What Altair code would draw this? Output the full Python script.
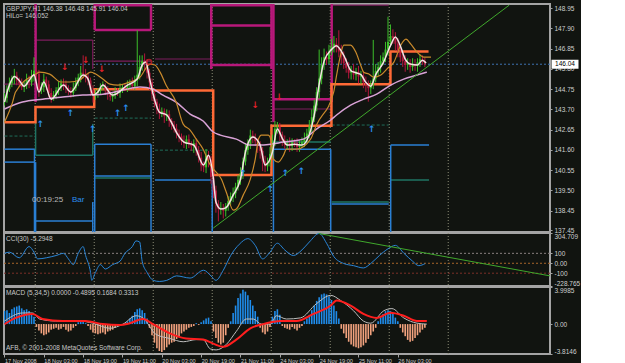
import json
import altair as alt
import pandas as pd

# ---------------- data ----------------
OPEN0 = 144.10
CLOSE = [
    144.30, 144.75, 145.05, 145.30, 145.45, 145.20, 145.05, 144.85, 144.95, 145.25,
    145.10, 145.40, 145.70, 145.55, 144.70, 144.85, 145.25, 145.00, 144.55, 144.30,
    144.45, 144.70, 144.85, 145.05, 145.00, 144.80, 144.65, 144.55, 144.80, 145.10,
    145.35, 145.60, 145.50, 145.40, 145.20, 144.70, 144.40, 144.55, 144.65, 144.85,
    144.90, 144.70, 144.50, 144.35, 144.45, 144.60, 144.55, 144.75, 144.85, 144.80,
    144.95, 145.05, 144.90, 145.20, 145.50, 145.90, 146.20, 146.05, 145.60, 145.10,
    144.50, 144.10, 143.70, 143.50, 143.60, 143.35, 143.45, 143.10, 142.90, 142.70,
    142.45, 142.30, 142.05, 141.95, 142.15, 141.90, 141.80, 141.95, 141.60, 141.20,
    140.80, 140.70, 141.30, 141.10, 140.20, 139.50, 138.80, 138.55, 138.60, 138.45,
    138.70, 138.95, 139.20, 139.35, 139.70, 140.05, 140.40, 141.00, 141.60, 141.90,
    142.35, 142.25, 142.05, 141.80, 141.55, 141.00, 140.75, 140.95, 141.40, 142.10,
    142.70, 142.80, 142.40, 142.10, 141.85, 141.95, 141.80, 142.00, 141.95, 141.75,
    141.90, 142.00, 142.20, 142.45, 142.80, 143.30, 143.90, 144.60, 145.30, 146.00,
    146.40, 146.30, 146.70, 146.95, 147.10, 146.90, 146.70, 146.40, 146.10, 145.85,
    145.60, 145.70, 145.50, 145.65, 145.40, 145.45, 145.10, 144.95, 144.80, 145.00,
    145.30, 145.70, 145.90, 146.20, 146.40, 146.80, 147.20, 147.50, 147.40, 147.10,
    146.70, 146.40, 146.20, 146.00, 146.10, 145.90, 146.05, 145.95, 146.15, 146.30,
    146.20, 146.04,
]
# upper / lower wick lengths in hundredths of a yen
UPPER_WICK = [
    25, 20, 30, 15, 35, 20, 15, 25, 20, 30,
    20, 35, 70, 50, 20, 25, 30, 15, 20, 25,
    20, 15, 30, 20, 25, 20, 15, 20, 30, 25,
    20, 35, 90, 30, 20, 15, 25, 20, 15, 20,
    25, 15, 20, 20, 15, 25, 20, 30, 15, 20,
    25, 20, 30, 25, 230, 60, 30, 40, 25, 20,
    20, 25, 15, 30, 20, 15, 25, 20, 15, 20,
    25, 20, 15, 30, 20, 25, 15, 20, 25, 20,
    30, 20, 35, 25, 20, 30, 25, 20, 30, 20,
    15, 25, 20, 30, 20, 25, 30, 20, 35, 25,
    30, 25, 20, 15, 25, 20, 30, 25, 35, 30,
    40, 25, 20, 15, 25, 20, 30, 20, 15, 25,
    20, 25, 30, 25, 35, 40, 30, 25, 150, 40,
    45, 30, 35, 40, 40, 30, 90, 35, 30, 25,
    30, 25, 35, 20, 30, 25, 20, 30, 25, 20,
    200, 35, 25, 30, 25, 40, 130, 60, 35, 30,
    30, 25, 20, 30, 25, 20, 30, 25, 20, 25,
    20, 18,
]
LOWER_WICK = [
    20, 25, 15, 20, 30, 25, 20, 15, 25, 20,
    30, 20, 25, 30, 35, 20, 25, 30, 20, 25,
    15, 20, 25, 20, 30, 25, 20, 25, 20, 15,
    20, 25, 20, 30, 25, 30, 35, 20, 25, 20,
    15, 25, 30, 20, 25, 20, 15, 25, 20, 15,
    20, 25, 15, 20, 30, 25, 20, 35, 30, 40,
    35, 30, 25, 30, 20, 35, 25, 30, 25, 20,
    25, 30, 20, 25, 30, 20, 25, 35, 30, 25,
    30, 25, 30, 40, 35, 40, 45, 65, 30, 40,
    30, 25, 20, 30, 25, 20, 25, 30, 20, 25,
    25, 30, 25, 35, 40, 50, 30, 25, 20, 25,
    30, 25, 35, 30, 20, 25, 30, 25, 20, 25,
    25, 20, 25, 20, 25, 30, 25, 30, 35, 30,
    25, 30, 25, 20, 30, 25, 30, 35, 30, 25,
    30, 35, 25, 30, 35, 40, 30, 35, 70, 30,
    25, 20, 25, 30, 20, 25, 30, 25, 30, 35,
    30, 25, 30, 35, 25, 30, 20, 25, 30, 25,
    20, 15,
]

WHITE_I = [0, 2, 4, 6, 8, 10, 12, 14, 16, 19, 24, 27, 32, 34, 36, 38, 40, 44, 50, 54, 56, 57.5, 59, 61, 63, 66,
           68, 70, 73, 77, 81, 83, 85, 86, 88, 90, 93, 96, 98, 101, 104, 106, 109, 111, 113, 115, 118, 121, 124,
           126, 128, 130, 133, 135, 138, 141, 143, 145, 147, 149, 151, 154, 157, 159, 161, 163, 165, 168, 170, 171.5]
WHITE_P = [144.08, 144.96, 145.40, 145.20, 144.90, 145.20, 145.50, 144.60, 145.12, 144.23, 144.96, 144.60, 145.48,
           145.27, 144.44, 144.60, 144.96, 144.44, 144.96, 145.27, 146.00, 146.15, 145.30, 144.23, 143.56, 143.41,
           143.00, 142.50, 142.01, 141.85, 140.82, 141.33, 140.09, 138.90, 138.54, 138.60, 139.26, 140.09, 141.49,
           142.27, 141.85, 140.82, 141.49, 142.68, 142.20, 141.85, 141.90, 141.85, 142.40, 143.40, 145.00, 146.20,
           146.80, 147.00, 146.50, 145.70, 145.60, 145.50, 145.10, 144.90, 145.50, 146.10, 147.00, 147.45, 147.00,
           146.30, 146.05, 146.00, 146.25, 146.10]

TAN_I = [0, 3.3, 4.5, 12.7, 14.3, 18.4, 22.9, 26.5, 30.6, 33, 35.1, 37.1, 40, 42.9, 46.1, 51, 55.1, 59.2, 61.2,
         63.3, 65.7, 69.8, 72.7, 75.5, 78, 80.8, 83.7, 86.1, 88.2, 90.2, 93.1, 94.3, 97.1, 100, 102, 103.3, 104.5,
         107.3, 108.6, 109.4, 111.4, 113.5, 114.7, 118.8, 124.5, 126.9, 133.9, 135.1, 136.7, 138, 140.8, 142.9,
         144.9, 146.1, 148.2, 150.2, 153.1, 155.5, 158.4, 161.2, 163.3, 165.3, 167.8, 170.6, 173.5]
TAN_P = [143.04, 144.08, 144.60, 145.53, 145.63, 145.53, 145.12, 145.12, 145.22, 145.48, 145.63, 145.53, 145.27,
         145.01, 144.96, 145.12, 145.37, 146.05, 146.00, 145.63, 144.96, 144.08, 142.94, 142.63, 142.16, 141.64,
         140.82, 140.45, 140.09, 139.42, 138.48, 138.54, 139.26, 140.09, 141.13, 142.16, 142.37, 142.37, 142.01,
         141.13, 140.97, 141.33, 141.64, 141.64, 142.16, 142.89, 144.60, 145.48, 146.51, 147.03, 147.03, 146.67,
         145.99, 145.63, 145.53, 145.37, 145.48, 145.79, 146.15, 147.03, 147.34, 147.08, 146.67, 146.41, 146.41]

PINK_I = [0, 7.3, 15.5, 23.7, 31.8, 40, 48.2, 55.1, 60.4, 64.5, 69.8, 75.5, 80.8, 84.9, 87.8, 94.3, 100, 104.1,
          108.2, 113.5, 121.6, 126.9, 132.7, 135.1, 140.8, 146.1, 151.4, 157.1, 162.4, 167.8, 171.8]
PINK_P = [143.72, 144.08, 144.23, 144.34, 144.44, 144.49, 144.70, 144.86, 144.75, 144.44, 144.08, 143.46, 143.10,
          142.53, 142.37, 142.16, 141.85, 141.85, 141.90, 142.01, 142.16, 142.68, 143.15, 143.41, 143.92, 144.23,
          144.49, 144.96, 145.27, 145.48, 145.63]

ORANGE_I = [0, 12.6, 36.5, 60.5, 84.9, 108.6, 133, 157, 172.5]
ORANGE_P = [143.04, 143.82, 144.75, 144.68, 140.30, 142.85, 145.00, 146.70, 146.70]

# segments: (bar1, bar2, price1, price2)
MAGENTA_THICK = [
    (12.65, 12.65, 149.3, 144.08),
    (36.7, 36.7, 149.3, 147.81), (36.7, 59.6, 147.81, 147.81), (59.6, 59.6, 149.3, 147.81), (36.7, 59.6, 149.1, 149.1),
    (84.1, 84.1, 149.3, 145.79), (108.6, 108.6, 149.3, 145.79), (84.1, 108.6, 148.05, 148.05),
    (84.1, 108.6, 146.0, 146.0), (84.1, 108.6, 149.1, 149.1),
    (109.4, 109.4, 149.3, 143.04), (109.4, 132.7, 144.23, 144.23),
    (133.1, 133.1, 149.3, 144.08),
]
MAGENTA_THIN = [
    (0, 12.65, 145.01, 145.01),
    (12.65, 35.9, 147.29, 147.29), (35.9, 35.9, 147.29, 145.79),
    (36.7, 59.6, 146.2, 146.2),
    (61.2, 84.1, 146.31, 146.31),
    (109.4, 132.7, 143.72, 143.72),
    (133.1, 156.3, 149.1, 149.1),
]
BLUE_SEG = [
    (0, 12.2, 141.64, 141.64), (0, 12.2, 140.97, 140.97), (12.2, 12.2, 141.64, 137.3),
    (12.65, 35.9, 137.92, 137.92), (12.65, 12.65, 140.97, 137.3), (35.9, 35.9, 138.9, 137.3),
    (36.7, 59.6, 141.9, 141.9), (36.7, 59.6, 140.25, 140.25), (36.7, 36.7, 141.9, 137.3), (59.6, 59.6, 141.9, 137.3),
    (61.2, 84.1, 140.04, 140.04), (84.5, 84.5, 140.04, 137.3),
    (109.4, 132.7, 141.64, 141.64), (109.4, 109.4, 142.01, 137.3), (132.7, 132.7, 141.64, 137.3),
    (133.1, 156.3, 138.8, 138.8),
    (157.1, 172.7, 141.85, 141.85), (157.1, 157.1, 141.85, 137.3),
]
TEAL_SEG = [
    (12.65, 35.9, 141.33, 141.33), (12.65, 12.65, 143.82, 141.33), (35.9, 35.9, 142.95, 141.33),
    (36.7, 59.6, 140.15, 140.15),
    (109.4, 132.7, 142.01, 142.01),
    (133.1, 156.3, 138.9, 138.9),
    (157.1, 172.7, 140.04, 140.04),
]
TEAL_DASH = [
    (0, 12.2, 142.32, 142.32),
    (36.7, 59.6, 143.25, 143.25),
    (61.2, 84.1, 141.59, 141.59),
    (133.1, 156.3, 142.89, 142.89),
]

UP_ARROW_I = [14.7, 26.9, 35.9, 46.1, 49.4, 97.1, 108.2, 114.3, 120.8, 149.4]
UP_ARROW_P = [143.15, 143.72, 142.89, 143.72, 143.98, 140.60, 139.78, 140.60, 140.71, 142.89]
DOWN_ARROW_I = [24.5, 33.1, 39.6, 102, 111.8]
DOWN_ARROW_P = [145.63, 145.99, 145.53, 143.67, 144.08]
CIRCLE_I = [58.8]
CIRCLE_P = [146.15]

TREND_I = [84.9, 205.3]
TREND_P = [137.55, 149.10]

LAST_PRICE = 146.04

CCI_I = [0, 2, 6, 10, 12, 13.5, 17, 21, 24, 26, 28, 30, 32, 33, 35, 35.5, 37, 39, 41, 44, 47, 49, 52, 53.5, 55, 56,
         58, 60.5, 63, 66, 70, 75.5, 81, 84, 86, 89, 92, 95.5, 99, 102, 105, 108, 111, 114, 117.5, 121, 124, 128,
         131, 134, 138, 142, 146, 149, 152.5, 156, 159, 162.5, 166, 168.5, 171]
CCI_V = [100, 112, 55, 168, 112, 44, 55, 78, 100, 44, -13, 100, 168, 78, -92, -172, -92, -13, -58, -13, 21, 100,
         168, 225, 214, 21, -92, -172, -183, -172, -127, -149, -70, -127, -172, -70, 78, 191, 248, 180, 44, 112,
         202, 134, 78, 134, 214, 300, 202, 66, -2, -24, -47, -2, 78, 146, 180, 100, 21, -24, -5]
CCI_TREND_I = [127.8, 221.9]
CCI_TREND_V = [300, -127]
CCI_LEVELS = [100, 0, -100]

HIST = [
    1.4, 1.5, 1.2, 1.6, 1.8, 1.9, 2.0, 1.7, 1.5, 1.6, 1.4, 1.0, 0.8,
    -0.3, -0.7, -1.0, -1.2, -1.1, -0.9, -0.6, -0.5, -0.4, -0.6, -0.5,
    -0.3, -0.6, -0.8, -0.7, -0.4, -0.2,
    0.2, 0.4, 0.3, 0.1, -0.2,
    -0.6, -0.9, -1.0, -1.1, -1.0, -0.9, -1.1, -0.8, -0.7, -0.6, -0.4, -0.2,
    0.0, -0.1, 0.1, 0.3,
    0.6, 0.9, 1.3, 1.6, 1.7, 1.5, 1.2, 0.6,
    -0.4, -1.2, -2.0, -2.6, -2.9, -3.0, -2.8, -2.5, -2.2, -2.0, -1.9, -1.6, -1.3, -1.0, -0.8, -0.6, -0.4,
    -0.3, -0.2, 0.1, -0.1, 0.2, 0.4,
    0.6, 0.7, 0.3,
    -0.8, -1.5, -2.0, -2.2, -2.0, -1.2,
    -0.4, 0.3,
    1.2, 2.0, 2.8, 3.3, 3.7, 3.5, 3.1, 2.6, 2.0, 1.4, 0.8,
    -0.4, -0.9, -1.1, -0.8, -0.3,
    0.8, 1.4, 1.6, 1.0,
    -0.2, -0.4, -0.5, -0.6, -0.3, -0.5, -0.7, -0.4, -0.2,
    0.3, 0.6, 1.0, 1.5, 2.0, 2.5, 2.9, 3.2, 3.3, 3.2, 3.0, 2.6, 2.0, 1.4, 0.6,
    -0.5, -1.0, -1.5, -1.9, -2.2, -2.4, -2.5, -2.6, -2.5, -2.3, -2.0, -1.6, -1.2, -0.8, -0.4,
    0.3, 0.7, 1.1, 1.4, 1.5, 1.4, 1.1, 0.7, 0.3,
    -0.4, -0.9, -1.3, -1.7, -1.9, -1.8, -1.5, -1.2, -0.9, -0.6, -0.4,
]
MACD_I = [0, 7.3, 11.4, 14.3, 20.8, 30.6, 35.9, 42.9, 48.2, 53.5, 56.3, 61.6, 67.3, 72.7, 78, 80.8, 83.7, 86.1,
          90.2, 94.3, 98.4, 101.2, 104.5, 108.2, 110.6, 114.7, 120.4, 126.9, 132.7, 136.7, 142, 146, 149, 154.3,
          157.6, 162.4, 167.8, 171.8]
MACD_V = [0.33, 1.2, 1.2, 0.55, 0.33, 0.33, 0.1, -0.45, 0, 0.9, 0.67, -1.1, -1.55, -1.9, -1.67, -1.67, -2.67,
          -2.78, -2.2, -0.78, 0.55, 0.55, 0, 0, 0.9, 0.55, 0.67, 2.2, 3.1, 2.55, 1.44, 0.33, 0.1, 1.44, 1.67, 0.67,
          0.1, 0]
SIGNAL_I = [0, 4.5, 11.4, 15.5, 23.7, 33, 40, 47, 51, 56.3, 60.4, 67.3, 73.9, 80.8, 84.9, 89, 94.3, 100, 105.3,
            112.2, 118.8, 125.7, 132.7, 135.1, 140.8, 146, 151.4, 157, 162.4, 167.8, 171.8]
SIGNAL_V = [0, 0.67, 1.1, 0.55, 0.33, 0.33, 0, -0.1, 0.1, 0.55, 0, -1.0, -1.55, -1.67, -2.1, -2.45, -1.67, -0.45,
            0, 0.33, 0.33, 1.1, 2.0, 2.55, 2.0, 1.1, 0.67, 1.22, 0.9, 0.33, 0.33]

PRICE_TICKS = [148.95, 147.90, 146.85, 145.80, 144.75, 143.70, 142.65, 141.60, 140.55, 139.50, 138.45, 137.45]
CCI_TICKS = [304.709, 100, 0, -100, -228.765]
CCI_TICK_TEXT = ["304.709", "100", "0.00", "-100", "-228.765"]
MACD_TICKS = [3.9985, 0, -3.22]
MACD_TICK_TEXT = ["3.9985", "0.00", "-3.8146"]
DATE_TICKS = [0, 16, 32, 48, 64, 80, 96, 112, 128, 144, 160]
DATE_TEXT = ["17 Nov 2008", "18 Nov 03:00", "18 Nov 19:00", "19 Nov 11:00", "20 Nov 03:00", "20 Nov 19:00",
             "21 Nov 11:00", "24 Nov 03:00", "24 Nov 19:00", "25 Nov 11:00", "26 Nov 03:00"]
SEPARATORS = [12.5, 36.5, 60.5, 84.5, 108.5, 132.5, 156.5, 180.5]

TITLE_MAIN = "GBPJPY,H1  146.38 146.48 145.91 146.04"
TITLE_HILO = "HiLo= 146.052"
TIMER_TEXT = "00:19:25"
TIMER_BAR = "Bar"
TITLE_CCI = "CCI(30) -5.2948"
TITLE_MACD = "MACD (5,34,5) 0.0000 -0.4895 0.1684 0.3313"
COPYRIGHT = "AFB, \u00a9 2001-2008 MetaQuotes Software Corp."

# ---------------- styling ----------------
BG = "#111410"
FONT = "Liberation Sans"
W = 546
H_MAIN, H_CCI, H_MACD = 228, 53, 67
XDOM = [-0.2, 221.9]
BULL, BEAR = "#3cbf2a", "#b3173c"

xscale = alt.Scale(domain=XDOM, nice=False, zero=False)


def lab_expr(vals, texts):
    expr = "''"
    for v, t in reversed(list(zip(vals, texts))):
        expr = f"datum.value == {v} ? '{t}' : ({expr})"
    return expr


# ---------------- tables ----------------
opens = [OPEN0] + CLOSE[:-1]
candles = pd.DataFrame({
    "i": list(range(len(CLOSE))),
    "o": opens,
    "c": CLOSE,
    "h": [max(o, c) + u / 100 for o, c, u in zip(opens, CLOSE, UPPER_WICK)],
    "l": [min(o, c) - d / 100 for o, c, d in zip(opens, CLOSE, LOWER_WICK)],
    "up": [1 if c >= o else 0 for o, c in zip(opens, CLOSE)],
})


def seg_df(segs):
    return pd.DataFrame(segs, columns=["i", "i2", "p", "p2"])


sep_df = pd.DataFrame({"i": SEPARATORS})

# ---------------- main panel ----------------
yscale = alt.Scale(domain=[137.35, 149.16], nice=False, zero=False)
yaxis = alt.Axis(orient="right", values=PRICE_TICKS, format=".2f", labelOverlap=False, title=None)
X = lambda f="i:Q": alt.X(f, scale=xscale, axis=None, title=None)
Y = lambda f: alt.Y(f, scale=yscale, axis=yaxis, title=None)

seps_main = alt.Chart(sep_df).mark_rule(color="#8e8e78", strokeDash=[1, 2], strokeWidth=1).encode(x=X())
last_line = alt.Chart(pd.DataFrame({"p": [LAST_PRICE]})).mark_rule(
    color="#3f72b0", strokeDash=[2, 2], strokeWidth=1).encode(y=Y("p:Q"))


def seg_layer(segs, color, width, dash=None):
    kw = dict(color=color, strokeWidth=width, clip=True)
    if dash:
        kw["strokeDash"] = dash
    return alt.Chart(seg_df(segs)).mark_rule(**kw).encode(
        x=X(), x2="i2:Q", y=Y("p:Q"), y2="p2:Q")


teal_dash = seg_layer(TEAL_DASH, "#1f6e5a", 1, [3, 2])
teal = seg_layer(TEAL_SEG, "#1f7463", 1.5)
blue = seg_layer(BLUE_SEG, "#2a7fd4", 1.5)
mag_thin = seg_layer(MAGENTA_THIN, "#7c1c5c", 1.2)
mag_thick = seg_layer(MAGENTA_THICK, "#b8187a", 2.5)

orange = alt.Chart(pd.DataFrame({"i": ORANGE_I, "p": ORANGE_P})).mark_line(
    interpolate="step-after", color="#ff6a36", strokeWidth=2.5, clip=True).encode(x=X(), y=Y("p:Q"))


def candle_layers(flag, color):
    base = alt.Chart(candles).transform_filter(alt.datum.up == flag)
    w = base.mark_rule(strokeWidth=1, color=color, clip=True).encode(x=X(), y=Y("l:Q"), y2="h:Q")
    b = base.mark_rule(strokeWidth=2, color=color, clip=True).encode(x=X(), y=Y("o:Q"), y2="c:Q")
    return [w, b]


candle_marks = candle_layers(0, BEAR) + candle_layers(1, BULL)

pink = alt.Chart(pd.DataFrame({"i": PINK_I, "p": PINK_P})).mark_line(
    interpolate="monotone", color="#d9a2d6", strokeWidth=1.5, clip=True).encode(x=X(), y=Y("p:Q"))
tan = alt.Chart(pd.DataFrame({"i": TAN_I, "p": TAN_P})).mark_line(
    interpolate="monotone", color="#c98a2c", strokeWidth=1.2, clip=True).encode(x=X(), y=Y("p:Q"))
white = alt.Chart(pd.DataFrame({"i": WHITE_I, "p": WHITE_P})).mark_line(
    interpolate="monotone", color="#f4e2e2", strokeWidth=1.5, clip=True).encode(x=X(), y=Y("p:Q"))

trend = alt.Chart(pd.DataFrame({"i": [TREND_I[0]], "i2": [TREND_I[1]], "p": [TREND_P[0]], "p2": [TREND_P[1]]})
                  ).mark_rule(color="#40a82c", strokeWidth=1, clip=True).encode(x=X(), x2="i2:Q", y=Y("p:Q"), y2="p2:Q")

up_arrows = alt.Chart(pd.DataFrame({"i": UP_ARROW_I, "p": UP_ARROW_P})).mark_text(
    text="\u2191", color="#2a8ff0", font="DejaVu Sans", fontWeight="bold", fontSize=9, baseline="top").encode(
    x=X(), y=Y("p:Q"))
dn_arrows = alt.Chart(pd.DataFrame({"i": DOWN_ARROW_I, "p": DOWN_ARROW_P})).mark_text(
    text="\u2193", color="#e0202a", font="DejaVu Sans", fontWeight="bold", fontSize=9, baseline="bottom").encode(
    x=X(), y=Y("p:Q"))
circle = alt.Chart(pd.DataFrame({"i": CIRCLE_I, "p": CIRCLE_P})).mark_point(
    shape="circle", size=25, color="#e0202a", filled=False, strokeWidth=1.5).encode(x=X(), y=Y("p:Q"))


def label(txt, x, y, color="#c8c8c8", size=6.5, align="left"):
    return alt.Chart(pd.DataFrame({"t": [txt]})).mark_text(
        align=align, baseline="middle", font=FONT, fontSize=size, color=color).encode(
        x=alt.value(x), y=alt.value(y), text="t:N")


price_box = alt.Chart(pd.DataFrame({"p": [LAST_PRICE]})).mark_rect(
    width=27, height=9, color="#ffffff").encode(x=alt.value(W + 15), y=Y("p:Q"))
price_txt = alt.Chart(pd.DataFrame({"p": [LAST_PRICE], "t": [f"{LAST_PRICE:.2f}"]})).mark_text(
    font=FONT, fontSize=6.5, color="#000000", align="center", baseline="middle").encode(
    x=alt.value(W + 15), y=Y("p:Q"), text="t:N")

main = alt.layer(
    seps_main, last_line, teal_dash, teal, blue, mag_thin, mag_thick, orange, *candle_marks,
    pink, tan, white, trend, up_arrows, dn_arrows, circle,
    label(TITLE_MAIN, 2, 5), label(TITLE_HILO, 2, 12),
    label(TIMER_TEXT, 28, 196, color="#b8b8b8", size=8), label(TIMER_BAR, 68, 196, color="#2a8ff0", size=8),
    price_box, price_txt,
).properties(width=W, height=H_MAIN)

# ---------------- CCI panel ----------------
cscale = alt.Scale(domain=[-228.765, 304.709], nice=False, zero=False)
caxis = alt.Axis(orient="right", values=CCI_TICKS, labelExpr=lab_expr(CCI_TICKS, CCI_TICK_TEXT),
                 labelOverlap=False, labelFlush=True, title=None)
YC = lambda f: alt.Y(f, scale=cscale, axis=caxis, title=None)

seps_cci = alt.Chart(sep_df).mark_rule(color="#8e8e78", strokeDash=[1, 2], strokeWidth=1).encode(x=X())
LEVEL_COLORS = ["#8a8080", "#a8662a", "#7a3028"]
levels = [
    alt.Chart(pd.DataFrame({"v": [lv]})).mark_rule(strokeDash=[2, 2], strokeWidth=1, color=col).encode(y=YC("v:Q"))
    for lv, col in zip(CCI_LEVELS, LEVEL_COLORS)
]
cci_line = alt.Chart(pd.DataFrame({"i": CCI_I, "v": CCI_V})).mark_line(
    interpolate="monotone", color="#2a86d8", strokeWidth=1, clip=True).encode(x=X(), y=YC("v:Q"))
cci_trend = alt.Chart(pd.DataFrame({"i": [CCI_TREND_I[0]], "i2": [CCI_TREND_I[1]],
                                    "v": [CCI_TREND_V[0]], "v2": [CCI_TREND_V[1]]})).mark_rule(
    color="#40a82c", strokeWidth=1, clip=True).encode(x=X(), x2="i2:Q", y=YC("v:Q"), y2="v2:Q")

cci = alt.layer(seps_cci, *levels, cci_line, cci_trend, label(TITLE_CCI, 2, 6)).properties(width=W, height=H_CCI)

# ---------------- MACD panel ----------------
mscale = alt.Scale(domain=[-3.22, 3.9985], nice=False, zero=False)
maxis = alt.Axis(orient="right", values=MACD_TICKS, labelExpr=lab_expr(MACD_TICKS, MACD_TICK_TEXT),
                 labelOverlap=False, labelFlush=True, title=None)
xaxis = alt.Axis(orient="bottom", values=DATE_TICKS, labelExpr=f"{json.dumps(DATE_TEXT)}[round(datum.value / 16)]",
                 labelAlign="left", labelOverlap=False, labelPadding=1, tickSize=3, labelFontSize=5.6,
                 title=None)
XM = lambda f="i:Q": alt.X(f, scale=xscale, axis=xaxis, title=None)
YM = lambda f: alt.Y(f, scale=mscale, axis=maxis, title=None)

hist_df = pd.DataFrame({"i": list(range(len(HIST))), "v": HIST, "z": [0] * len(HIST),
                        "pos": [1 if v >= 0 else 0 for v in HIST]})
seps_macd = alt.Chart(sep_df).mark_rule(color="#8e8e78", strokeDash=[1, 2], strokeWidth=1).encode(x=XM())
hist_pos = alt.Chart(hist_df).transform_filter(alt.datum.pos == 1).mark_rule(
    strokeWidth=1.6, color="#1f8ceb", clip=True).encode(x=XM(), y=YM("z:Q"), y2="v:Q")
hist_neg = alt.Chart(hist_df).transform_filter(alt.datum.pos == 0).mark_rule(
    strokeWidth=1.6, color="#f2a27e", clip=True).encode(x=XM(), y=YM("z:Q"), y2="v:Q")
macd_line = alt.Chart(pd.DataFrame({"i": MACD_I, "v": MACD_V})).mark_line(
    interpolate="monotone", color="#bdbdbd", strokeWidth=1, clip=True).encode(x=XM(), y=YM("v:Q"))
sig_line = alt.Chart(pd.DataFrame({"i": SIGNAL_I, "v": SIGNAL_V})).mark_line(
    interpolate="monotone", color="#ff1e1e", strokeWidth=2, clip=True).encode(x=XM(), y=YM("v:Q"))

macd = alt.layer(seps_macd, hist_pos, hist_neg, macd_line, sig_line, label(TITLE_MACD, 2, 6),
                 label(COPYRIGHT, 2, 61)).properties(width=W, height=H_MACD)

chart = alt.vconcat(main, cci, macd, spacing=1).properties(
    padding={"left": 2, "top": 2, "right": 0, "bottom": 0}, bounds="flush"
).configure(background=BG).configure_view(stroke="#a4a4a4", strokeWidth=2).configure_axis(
    labelFont=FONT, labelFontSize=6.5, labelColor="#cfcfcf", tickColor="#a4a4a4", tickSize=2,
    domain=False, grid=False, labelPadding=2
)

chart.save("out.html", embed_options={"renderer": "svg", "actions": False})
